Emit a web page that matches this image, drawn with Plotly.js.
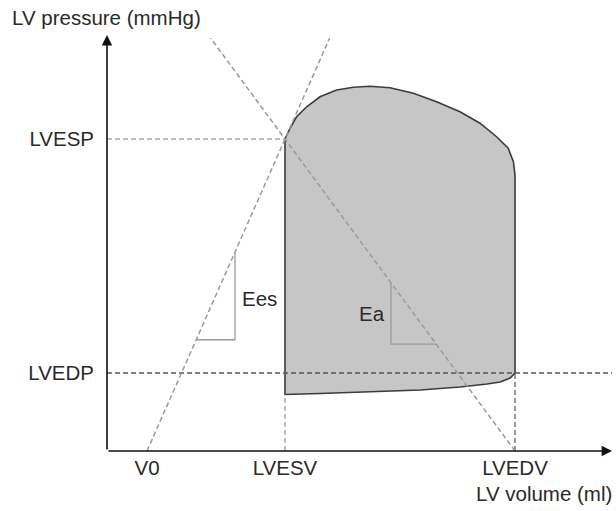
<!DOCTYPE html>
<html>
<head>
<meta charset="utf-8">
<script src="https://cdn.plot.ly/plotly-3.0.1.min.js"></script>
<style>html,body{margin:0;padding:0;background:#fff;}#chart{width:616px;height:511px;}</style>
</head>
<body>
<div id="chart"></div>
<script>
const V0 = 10;
const LVESV = 44.5;
const LVEDV = 102;
const LVESP = 124.8;
const LVEDP = 31.2;

// Pressure-volume loop outline
const loopVolume = [44.5, 45.75, 47.4, 49.9, 53.25, 57.4, 61.6, 65.75, 70.75, 76.6, 82.4, 88.25, 93.25, 97.4, 100.3, 101.6, 102, 102,
                    100.8, 98.3, 95, 88.3, 78.3, 65.8, 53.3, 44.5, 44.5];
const loopPressure = [124.8, 129.1, 133.7, 137.7, 141.7, 144.4, 145.5, 145.9, 145.3, 143.1, 139.7, 135.7, 131.1, 125.7, 121.1, 115.7, 110.4, 31.2,
                      29.2, 27.6, 26.8, 25.6, 24.4, 23.6, 23, 22.6, 124.8];

// Slope-triangle volumes on the Ees and Ea lines
const eesTriangle = [22.3, 32];
const eaTriangle = [71, 82.3];

// Tick labels
const xTickLabels = ['V0', 'LVESV', 'LVEDV'];
const yTickLabels = ['LVEDP', 'LVESP'];

const X_MAX = 126.25, Y_MAX = 165.2, Y_ARROW = 166.4;
const FONT = 'Liberation Sans, Arial, sans-serif';
const FS = 20.5;
const TXT = '#2a2a2a';

const ees = v => LVESP * (v - V0) / (LVESV - V0);
const ea = v => LVESP * (LVEDV - v) / (LVEDV - LVESV);
const eesTopV = V0 + Y_MAX * (LVESV - V0) / LVESP;
const eaTopV = LVEDV - Y_MAX * (LVEDV - LVESV) / LVESP;

const traces = [
  {x: loopVolume, y: loopPressure, mode: 'lines', fill: 'toself', fillcolor: '#c6c6c6',
   line: {color: '#3c3c3c', width: 1.6}, hoverinfo: 'skip'},
  // LVESP horizontal
  {x: [0, LVESV], y: [LVESP, LVESP], mode: 'lines', line: {color: '#a8a8a8', width: 1.3, dash: '5px,3px'}},
  // LVEDP horizontal
  {x: [0, X_MAX], y: [LVEDP, LVEDP], mode: 'lines', line: {color: '#555', width: 1.3, dash: '5px,3px'}},
  // LVESV vertical
  {x: [LVESV, LVESV], y: [0, loopPressure[loopPressure.length - 2]], mode: 'lines', line: {color: '#888', width: 1.1, dash: '5px,3px'}},
  // LVEDV vertical
  {x: [LVEDV, LVEDV], y: [0, LVEDP], mode: 'lines', line: {color: '#555', width: 1.2, dash: '5px,3px'}},
  // Ees line
  {x: [V0, eesTopV], y: [0, Y_MAX], mode: 'lines', line: {color: '#9a9a9a', width: 1.5, dash: '5px,3px'}},
  // Ea line
  {x: [LVEDV, eaTopV], y: [0, Y_MAX], mode: 'lines', line: {color: '#9a9a9a', width: 1.5, dash: '5px,3px'}},
  // Ees triangle
  {x: [eesTriangle[0], eesTriangle[1], eesTriangle[1]],
   y: [ees(eesTriangle[0]), ees(eesTriangle[0]), ees(eesTriangle[1])],
   mode: 'lines', line: {color: '#9a9a9a', width: 1.3}},
  // Ea triangle
  {x: [eaTriangle[0], eaTriangle[0], eaTriangle[1]],
   y: [ea(eaTriangle[0]), ea(eaTriangle[1]), ea(eaTriangle[1])],
   mode: 'lines', line: {color: '#9a9a9a', width: 1.3}}
];

const layout = {
  width: 616, height: 511,
  margin: {l: 107, r: 4, t: 38, b: 60},
  paper_bgcolor: '#fff', plot_bgcolor: '#fff',
  showlegend: false,
  font: {family: FONT, size: FS, color: TXT},
  xaxis: {range: [0, X_MAX], showgrid: false, zeroline: false, showline: false,
          tickvals: [V0, LVESV, LVEDV], ticktext: xTickLabels, ticks: '',
          tickfont: {family: FONT, size: FS, color: TXT}, ticklabelstandoff: 2, fixedrange: true},
  yaxis: {range: [0, Y_MAX], showgrid: false, zeroline: false, showline: false,
          tickvals: [LVEDP, LVESP], ticktext: yTickLabels, ticks: '',
          tickfont: {family: FONT, size: FS, color: TXT}, ticklabelstandoff: 12, fixedrange: true},
  annotations: [
    {x: X_MAX, y: 0, ax: 0, ay: 0, xref: 'x', yref: 'y', axref: 'x', ayref: 'y', text: '',
     showarrow: true, arrowhead: 2, arrowsize: 1.3, arrowwidth: 1.6, arrowcolor: '#111', standoff: 0},
    {x: 0, y: Y_ARROW, ax: 0, ay: 0, xref: 'x', yref: 'y', axref: 'x', ayref: 'y', text: '',
     showarrow: true, arrowhead: 2, arrowsize: 1.3, arrowwidth: 1.6, arrowcolor: '#111', standoff: 0},
    {x: 10, y: 18, xref: 'paper', yref: 'paper', text: 'LV pressure (mmHg)', showarrow: false,
     xanchor: 'left', yanchor: 'middle', font: {family: FONT, size: FS, color: TXT}},
    {x: 614, y: 493, xref: 'paper', yref: 'paper', text: 'LV volume (ml)', showarrow: false,
     xanchor: 'right', yanchor: 'middle', font: {family: FONT, size: FS, color: TXT}},
    {x: 33.3, y: 61.2, xref: 'x', yref: 'y', text: 'Ees', showarrow: false,
     xanchor: 'left', yanchor: 'middle', font: {family: FONT, size: FS, color: TXT}},
    {x: 66.3, y: 55.2, xref: 'x', yref: 'y', text: 'Ea', showarrow: false,
     xanchor: 'center', yanchor: 'middle', font: {family: FONT, size: FS, color: TXT}}
  ]
};

// convert pixel-positioned paper annotations
layout.annotations.forEach(a => {
  if (a.xref === 'paper') {
    a.x = (a.x - 107) / 505;
    a.y = (451 - a.y) / 413;
  }
});

Plotly.newPlot('chart', traces, layout, {staticPlot: true, displayModeBar: false});
</script>
</body>
</html>
